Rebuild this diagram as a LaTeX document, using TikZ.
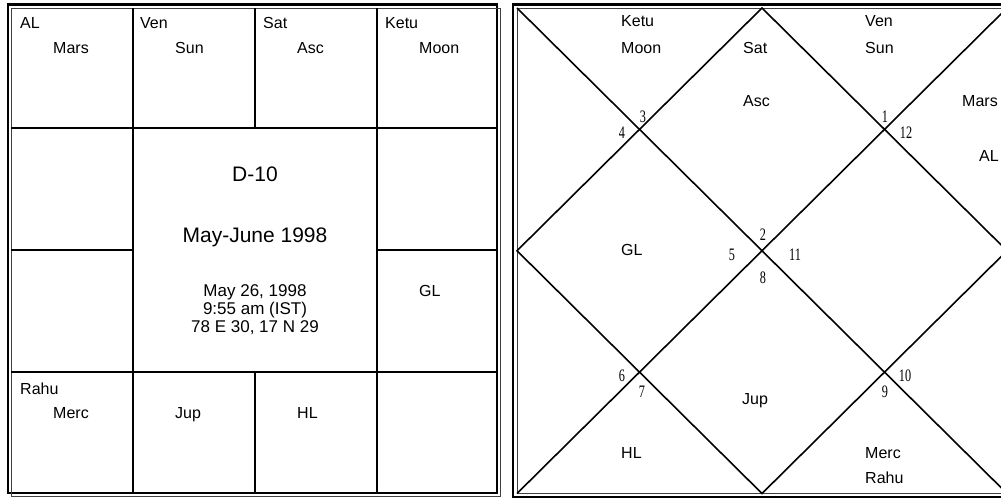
\documentclass[tikz,border=0pt]{standalone}
\usepackage{fontspec}
\setmainfont{Liberation Sans}
\newfontfamily\numfont{Liberation Serif}
\usetikzlibrary{positioning}
\newcommand{\hnum}[1]{\scalebox{0.7}[1]{#1}}
\begin{document}
\begin{tikzpicture}[x=1pt,y=-1pt,font=\fontsize{16}{18}\selectfont]
\tikzstyle{lbl}=[anchor=base west,inner sep=0pt]
\tikzstyle{big}=[inner sep=0pt,font=\fontsize{21}{24}\selectfont]
\tikzstyle{info}=[inner sep=0pt,align=center,font=\fontsize{17}{18}\selectfont]
\tikzstyle{num}=[inner sep=0pt,font=\numfont\fontsize{17.5}{18}\selectfont]
\tikzstyle{grid}=[line width=2.4pt]
\tikzstyle{diag}=[line width=1.6pt]
\tikzstyle{frame}=[line width=2.6pt]
\tikzstyle{rim}=[line width=1pt,black!75]
\useasboundingbox (0,0) rectangle (1001,498);
\clip (0,0) rectangle (1001,498);
\fill[white] (0,0) rectangle (1001,498);
% south chart
\draw[frame] (8,4.5) rectangle (497,493);
\draw[rim] (11,8) rectangle (500,496);
\foreach \gx in {133,377} \draw[grid] (\gx,8) -- (\gx,493);
\foreach \gy in {128,372} \draw[grid] (11,\gy) -- (497,\gy);
\draw[grid] (255,8) -- (255,128) (255,372) -- (255,493);
\draw[grid] (11,250) -- (133,250) (377,250) -- (497,250);
\node[lbl] (sAL) at (20,28) {AL};
\node[lbl] (sMars) at (53,53) {Mars};
\node[lbl] (sVen) at (140,28) {Ven};
\node[lbl] (sSun) at (175,53) {Sun};
\node[lbl] (sSat) at (263,28) {Sat};
\node[lbl] (sAsc) at (297,53) {Asc};
\node[lbl] (sKetu) at (385,28) {Ketu};
\node[lbl] (sMoon) at (419,53) {Moon};
\node[lbl] (sGL) at (419,296) {GL};
\node[lbl] (sRahu) at (20,394) {Rahu};
\node[lbl] (sMerc) at (53,418.5) {Merc};
\node[lbl] (sJup) at (175,418.5) {Jup};
\node[lbl] (sHL) at (297,418.5) {HL};
\node[big] (title) at (255,174) {D-10};
\node[big] (period) at (255,237) {May-June 1998};
\node[info] (birth) at (255,310) {May 26, 1998\\9:55 am (IST)\\78 E 30, 17 N 29};
% north chart
\draw[frame] (513,4.5) rectangle (1010,497);
\draw[rim] (517,8) rectangle (1007,493.5);
\coordinate (nw) at (517,8);
\coordinate (ne) at (1007,8);
\coordinate (sw) at (517,493.5);
\coordinate (se) at (1007,493.5);
\coordinate (nm) at (762,8);
\coordinate (em) at (1007,250.75);
\coordinate (sm) at (762,493.5);
\coordinate (wm) at (517,250.75);
\draw[diag] (nw) -- (se);
\draw[diag] (ne) -- (sw);
\draw[diag] (nm) -- (em) -- (sm) -- (wm) -- cycle;
\node[lbl] (nKetu) at (621,26) {Ketu};
\node[lbl] (nMoon) at (621,53) {Moon};
\node[lbl] (nSat) at (743,53) {Sat};
\node[lbl] (nAsc) at (743,106) {Asc};
\node[lbl] (nVen) at (865,26) {Ven};
\node[lbl] (nSun) at (865,53) {Sun};
\node[lbl] (nMars) at (962,106) {Mars};
\node[lbl] (nAL) at (979,161) {AL};
\node[lbl] (nGL) at (621,255) {GL};
\node[lbl] (nJup) at (742,404) {Jup};
\node[lbl] (nHL) at (621,458) {HL};
\node[lbl] (nMerc) at (865,458) {Merc};
\node[lbl] (nRahu) at (865,483) {Rahu};
\node[num] (h3) at (643,117) {\hnum{3}};
\node[num] (h4) at (622,133) {\hnum{4}};
\node[num] (h1) at (885,117) {\hnum{1}};
\node[num] (h12) at (906,133) {\hnum{12}};
\node[num] (h2) at (763,235) {\hnum{2}};
\node[num] (h5) at (732,255) {\hnum{5}};
\node[num] (h11) at (795,255) {\hnum{11}};
\node[num] (h8) at (763,278) {\hnum{8}};
\node[num] (h6) at (622,376) {\hnum{6}};
\node[num] (h7) at (642,392) {\hnum{7}};
\node[num] (h10) at (905,376) {\hnum{10}};
\node[num] (h9) at (885,392) {\hnum{9}};
\end{tikzpicture}
\end{document}
